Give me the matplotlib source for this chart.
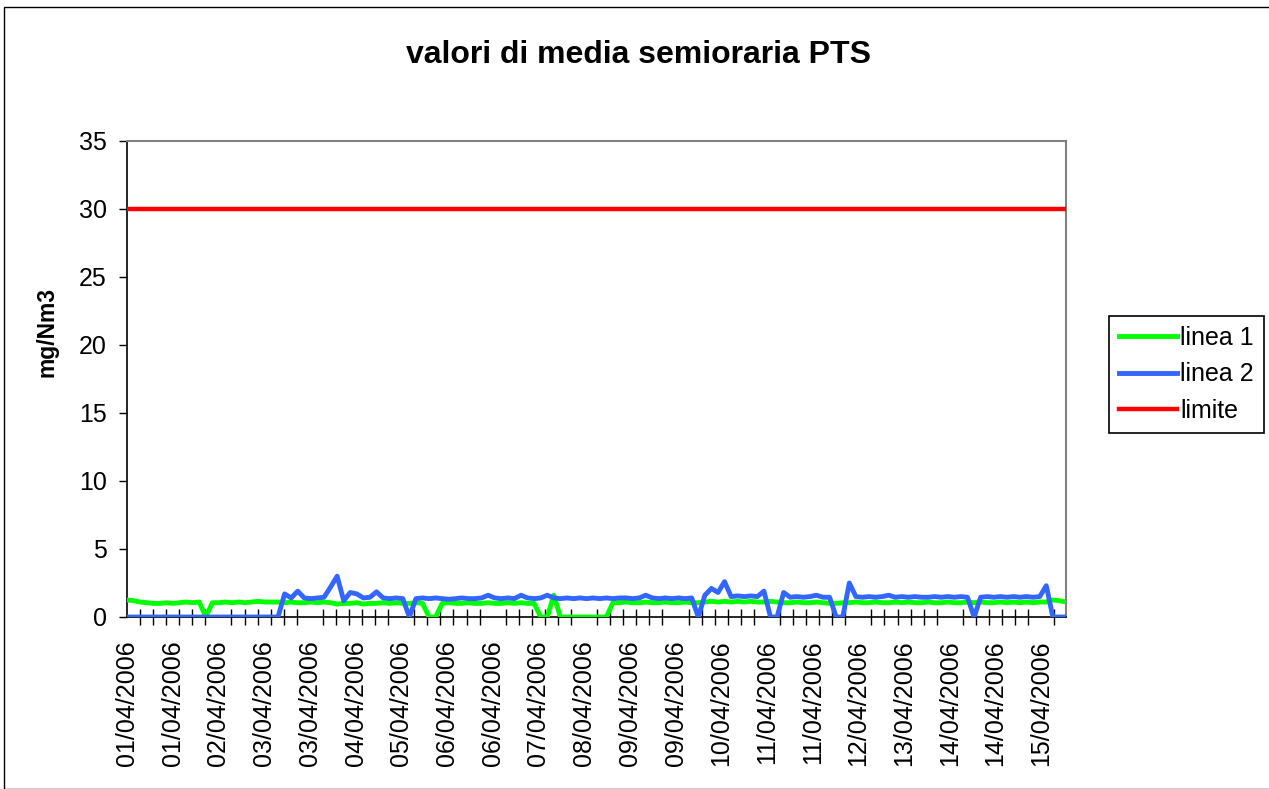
import numpy as np
import matplotlib
matplotlib.use("Agg")
import matplotlib.pyplot as plt
from matplotlib.patches import Rectangle
from matplotlib.ticker import FixedLocator, MultipleLocator

plt.rcParams['font.family'] = ['Liberation Sans', 'DejaVu Sans']

title = "valori di media semioraria PTS"
ylabel = "mg/Nm3"
series_names = ["linea 1", "linea 2", "limite"]

# sampled every 5 half-hour categories (720 categories total)
linea1 = [1.25, 1.2, 1.1, 1.05, 1.0, 1.0, 1.05, 1.0, 1.05, 1.1, 1.05, 1.1,
          0.0,
          1.05, 1.05, 1.1, 1.05, 1.1, 1.05, 1.1, 1.15, 1.1, 1.1, 1.1,
          1.05, 1.1, 1.05, 1.05, 1.1, 1.05, 1.1, 1.05, 0.95, 1.0, 1.0, 1.05, 0.95, 1.0, 1.0, 1.05,
          1.0, 1.05, 1.0, 1.0, 1.05, 1.0,
          0.0, 0.0,
          1.0, 1.05, 1.0, 1.0, 1.05, 1.0, 1.0, 1.05, 1.0, 1.0, 1.05, 1.0, 1.05, 1.0, 1.0,
          0.0, 0.0,
          1.6,
          0.0, 0.0, 0.0, 0.0, 0.0, 0.0, 0.0, 0.0,
          1.05, 1.05, 1.1, 1.05, 1.05, 1.1, 1.05, 1.05, 1.1, 1.05,
          1.05, 1.1, 1.05, 1.05, 1.1, 1.15, 1.1, 1.15, 1.1, 1.15,
          1.1, 1.15, 1.1, 1.1, 1.15, 1.1, 1.05, 1.05, 1.1, 1.05,
          1.05, 1.1, 1.05, 1.0, 1.0, 1.05, 1.05, 1.1, 1.05, 1.05,
          1.1, 1.05, 1.05, 1.1, 1.05, 1.1, 1.05, 1.05, 1.1, 1.05,
          1.05, 1.1, 1.05, 1.05, 1.1, 1.05, 1.1, 1.05, 1.05, 1.1,
          1.05, 1.1, 1.05, 1.1, 1.05, 1.1, 1.1,
          1.25, 1.2, 1.1]

linea2 = [0.0] * 24 + \
         [1.7, 1.4, 1.9, 1.4, 1.35, 1.4, 1.45, 2.2, 3.0, 1.2, 1.8, 1.7, 1.4, 1.45, 1.85, 1.4,
          1.35, 1.4, 1.35, 0.0,
          1.35, 1.4, 1.35, 1.4, 1.35, 1.3, 1.35, 1.4, 1.35, 1.35,
          1.4, 1.6, 1.4, 1.35, 1.4, 1.35, 1.6, 1.4, 1.35, 1.4,
          1.6, 1.4, 1.35, 1.4, 1.35, 1.4, 1.35, 1.4, 1.35, 1.4,
          1.35, 1.4, 1.4, 1.35, 1.4, 1.6, 1.4, 1.35, 1.4, 1.35,
          1.4, 1.35, 1.4,
          0.0,
          1.6, 2.1, 1.8, 2.6, 1.5, 1.55, 1.5, 1.55, 1.5, 1.9,
          0.0, 0.0,
          1.8, 1.45, 1.5, 1.45, 1.5, 1.6, 1.45, 1.45,
          0.0, 0.0,
          2.5,
          1.5, 1.45, 1.5, 1.45, 1.5, 1.6, 1.45, 1.5, 1.45, 1.5,
          1.45, 1.45, 1.5, 1.45, 1.5, 1.45, 1.5, 1.45,
          0.0,
          1.45, 1.5, 1.45, 1.5, 1.45, 1.5, 1.45, 1.5, 1.45, 1.5,
          2.3,
          0.0, 0.0, 0.0]

limite = [30.0, 30.0]

n_categories = 720
xtick_labels = ["01/04/2006", "01/04/2006", "02/04/2006", "03/04/2006", "03/04/2006",
                "04/04/2006", "05/04/2006", "06/04/2006", "06/04/2006", "07/04/2006",
                "08/04/2006", "09/04/2006", "09/04/2006", "10/04/2006", "11/04/2006",
                "11/04/2006", "12/04/2006", "13/04/2006", "14/04/2006", "14/04/2006",
                "15/04/2006"]
label_every = 35
tick_every = 10

W, H = 1269, 789
fig = plt.figure(figsize=(W / 100, H / 100), dpi=100)
ax = fig.add_axes([127 / W, 1 - 617 / H, (1066 - 127) / W, (617 - 140.7) / H])

x1 = np.linspace(0, n_categories - 1, len(linea1))
x2 = np.linspace(0, n_categories - 1, len(linea2))
xl = [0, n_categories - 1]

l1, = ax.plot(x1, linea1, color="#00FF00", lw=3.5, solid_joinstyle="round", zorder=3)
l2, = ax.plot(x2, linea2, color="#3366FF", lw=3.5, solid_joinstyle="round", zorder=4)
l3, = ax.plot(xl, limite, color="#FF0000", lw=3.2, zorder=5)

ax.set_xlim(0, n_categories - 1)
ax.set_ylim(0, 35)
ax.yaxis.set_major_locator(MultipleLocator(5))
ax.tick_params(axis='y', direction='out', length=5.5, width=1, labelsize=18, pad=9, color='black')

ax.xaxis.set_major_locator(FixedLocator([i * label_every for i in range(len(xtick_labels))]))
ax.set_xticklabels(xtick_labels, rotation=90, fontsize=18)
ax.xaxis.set_minor_locator(FixedLocator(list(range(0, n_categories, tick_every))))
ax.tick_params(axis='x', which='major', length=0, pad=17)
ax.tick_params(axis='x', which='minor', direction='inout', length=11.5, width=1, color='black')

for s in ['top', 'right']:
    ax.spines[s].set_color('#808080')
    ax.spines[s].set_linewidth(1.5)
for s in ['left', 'bottom']:
    ax.spines[s].set_color('black')
    ax.spines[s].set_linewidth(1.2)

ax.set_ylabel(ylabel, fontsize=16.5, fontweight='bold')
ax.yaxis.set_label_coords(-(127 - 58) / (1066 - 127), (617 - 332) / (617 - 140.7))

fig.text(639 / W, 1 - 55 / H, title, fontsize=23, fontweight='bold', ha='center', va='center')

leg = fig.legend([l1, l2, l3], series_names, loc='center left',
                 bbox_to_anchor=(1109 / W, 1 - 374.5 / H), bbox_transform=fig.transFigure,
                 fontsize=18, frameon=True, fancybox=False, edgecolor='black',
                 framealpha=1, handlelength=2.3, handletextpad=0.15, labelspacing=0.5,
                 borderpad=0.4, borderaxespad=0)
leg.get_frame().set_linewidth(1.2)

fig.patches.append(Rectangle((4 / W, 0), 1, 1 - 7 / H, transform=fig.transFigure,
                             fill=False, edgecolor='black', lw=1.0))

fig.savefig("out.png", dpi=100)
